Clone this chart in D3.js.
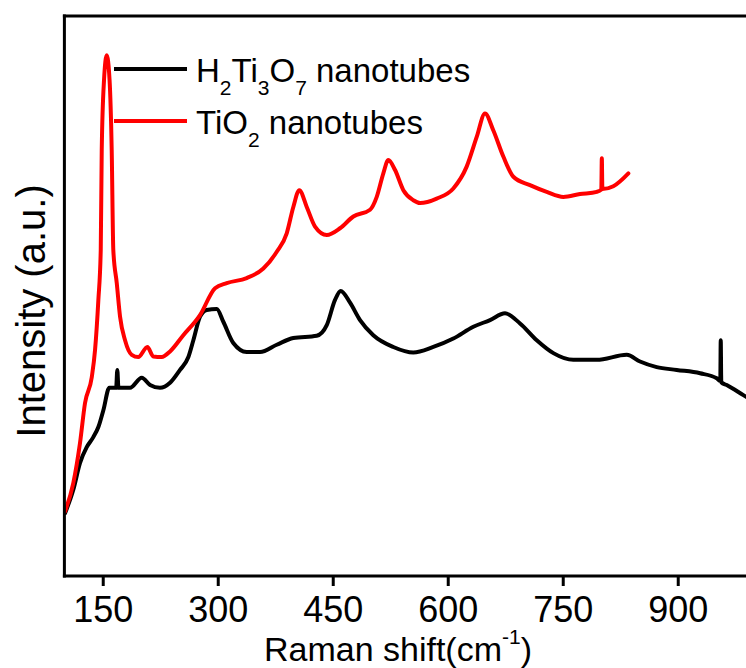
<!DOCTYPE html>
<html>
<head>
<meta charset="utf-8">
<script src="https://cdn.jsdelivr.net/npm/d3@7"></script>
<style>
  html, body { margin: 0; padding: 0; background: #fff; }
  svg { display: block; font-family: "Liberation Sans", Arial, sans-serif; }
</style>
</head>
<body>
<svg id="chart" width="746" height="668"></svg>
<script>
// ---- data (Raman shift in cm^-1, intensity in a.u.) ----
const h2Shift = [100.8,111.6,120.4,129.1,137.7,144.3,150.8,158.6,167.5,169,170.5,185.6,200.9,211.7,224.7,237.8,250.8,261.7,268.2,276.9,285.6,298.7,307.3,320.3,337.8,355.2,377,398.6,429.1,442.2,453,460.4,472.6,485.6,502.9,529,555.1,581.2,607.3,633.4,655.2,674.7,694.3,716.1,737.8,763.8,794.4,833.5,850.8,872.6,898.7,929.2,950.9,955.5,956.1,956.8,963.9,985.6,1000];
const h2Int   = [11.2,15.4,20.2,23.0,24.8,26.6,29.6,33.6,33.6,36.8,33.6,33.6,35.4,34.1,33.6,34.5,36.8,39.1,42.1,46.3,47.5,47.7,45.4,41.6,40.0,40.0,41.3,42.5,42.9,44.8,49.3,50.9,48.8,45.7,43.0,40.9,39.9,40.9,42.4,44.5,45.7,46.9,45.1,42.1,39.8,38.6,38.6,39.5,38.3,37.3,36.8,36.2,35.3,34.8,42.1,34.6,34.1,32.3,31.1];

const tioShift = [100.8,111.6,120.4,126.9,135.7,140,144.3,147.4,148.7,151.7,155.2,158.9,161.7,163.8,168.3,172.6,179.1,187.8,196.4,208.2,216,227,237.8,255.1,276.9,296.5,311.7,337.8,359.5,377,390,398.6,406.4,416.1,426.9,442.2,459.5,476.9,498.7,507.4,516,522.5,531.3,542.1,555.1,563.9,585.6,607.3,624.7,637.8,648.6,659.4,672.5,685.6,707.3,729.1,750.8,772.5,794.4,800.3,801,801.7,816,835.6];
const tioInt   = [11.5,16.6,23.8,30.9,35.5,40.4,49.3,58.2,76.1,88.6,93.0,88.6,76.1,58.2,52.3,46.3,42.1,39.5,39.1,40.9,39.2,39.1,40.1,43.0,46.6,51.4,52.3,53.2,54.9,57.9,61.2,65.9,68.9,65.9,62.4,60.9,62.1,64.2,65.4,67.7,71.9,74.3,72.5,68.9,67.1,66.6,67.4,69.2,73.1,78.4,82.6,79.6,74.9,71.3,69.8,68.6,67.7,68.2,68.6,69.0,74.6,69.1,69.6,71.9];

const xTicks = [150, 300, 450, 600, 750, 900];
const seriesNames = ["H2Ti3O7", "TiO2"];
const seriesColors = ["#000000", "#ff0000"];

// ---- layout ----
const svg = d3.select("#chart");
const pL = 64.4, pR = 754.4, pT = 16, pB = 576;

const x = d3.scaleLinear().domain([100, 1000]).range([pL, pR]);
const y = d3.scaleLinear().domain([0, 100]).range([pB, pT]);

svg.append("defs").append("clipPath").attr("id", "plotclip")
  .append("rect").attr("x", pL).attr("y", pT).attr("width", pR - pL).attr("height", pB - pT);

const line = d3.line().x(d => x(d[0])).y(d => y(d[1])).curve(d3.curveMonotoneX);

const series = [
  d3.zip(h2Shift, h2Int),
  d3.zip(tioShift, tioInt)
];

const g = svg.append("g").attr("clip-path", "url(#plotclip)");
series.forEach((s, i) => {
  g.append("path").datum(s)
    .attr("fill", "none")
    .attr("stroke", seriesColors[i])
    .attr("stroke-width", 4)
    .attr("stroke-linejoin", "round")
    .attr("stroke-linecap", "round")
    .attr("d", line);
});

// ---- frame ----
svg.append("line").attr("x1", pL).attr("x2", pL).attr("y1", pT - 1.5).attr("y2", pB + 1.5)
  .attr("stroke", "#000").attr("stroke-width", 3);
svg.append("line").attr("x1", pL - 1.5).attr("x2", 760).attr("y1", pT).attr("y2", pT)
  .attr("stroke", "#000").attr("stroke-width", 3);

// ---- x axis ----
const xAxis = d3.axisBottom(x).tickValues(xTicks).tickSize(10).tickSizeOuter(0).tickPadding(10);
const ax = svg.append("g").attr("transform", `translate(0,${pB})`).call(xAxis);
ax.select(".domain").attr("stroke-width", 3).attr("d", `M${pL - 1.5},0H760`);
ax.selectAll(".tick line").attr("stroke-width", 3);
ax.selectAll(".tick text")
  .attr("font-size", 36)
  .attr("fill", "#000")
  .attr("font-family", "'Liberation Sans', Arial, sans-serif");

// x label
const xl = svg.append("text")
  .attr("x", 398).attr("y", 661)
  .attr("text-anchor", "middle")
  .attr("font-size", 34)
  .attr("fill", "#000");
xl.append("tspan").text("Raman shift(cm");
xl.append("tspan").attr("font-size", 21).attr("dy", -17).text("-1");
xl.append("tspan").attr("dy", 17).text(")");

// y label
svg.append("text")
  .attr("transform", `translate(45,${311}) rotate(-90)`)
  .attr("text-anchor", "middle")
  .attr("font-size", 40)
  .attr("fill", "#000")
  .text("Intensity (a.u.)");

// ---- legend ----
const legendRows = [
  { parts: [["H",0],["2",1],["Ti",0],["3",1],["O",0],["7",1],[" nanotubes",0]], y: 69 },
  { parts: [["TiO",0],["2",1],[" nanotubes",0]], y: 121 }
];
legendRows.forEach((row, i) => {
  svg.append("line").attr("x1", 114).attr("x2", 187).attr("y1", row.y).attr("y2", row.y)
    .attr("stroke", seriesColors[i]).attr("stroke-width", 4);
  const t = svg.append("text").attr("x", 196).attr("y", row.y + 12.5)
    .attr("font-size", 33).attr("fill", "#000");
  let prevSub = false;
  row.parts.forEach(([txt, sub]) => {
    const ts = t.append("tspan").text(txt);
    if (sub && !prevSub) ts.attr("dy", 13);
    else if (!sub && prevSub) ts.attr("dy", -13);
    if (sub) ts.attr("font-size", 21);
    prevSub = !!sub;
  });
});
</script>
</body>
</html>
